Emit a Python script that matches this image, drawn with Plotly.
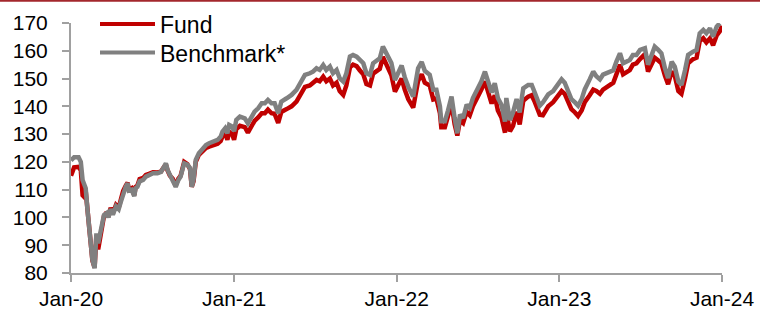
import plotly.graph_objects as go

dates = [
    "2020-01-01", "2020-01-08", "2020-01-18", "2020-01-23", "2020-01-27", "2020-01-30",
    "2020-02-03", "2020-02-07", "2020-02-11", "2020-02-14", "2020-02-18", "2020-02-23",
    "2020-02-27", "2020-03-02", "2020-03-06", "2020-03-10", "2020-03-15", "2020-03-21",
    "2020-03-25", "2020-03-30", "2020-04-04", "2020-04-11", "2020-04-17", "2020-04-22",
    "2020-04-27", "2020-05-03", "2020-05-07", "2020-05-10", "2020-05-16", "2020-05-22",
    "2020-05-25", "2020-05-29", "2020-06-03", "2020-06-11", "2020-06-17", "2020-06-24",
    "2020-07-03", "2020-07-13", "2020-07-21", "2020-07-28", "2020-08-01", "2020-08-05",
    "2020-08-10", "2020-08-16", "2020-08-23", "2020-08-29", "2020-09-03", "2020-09-11",
    "2020-09-18", "2020-09-24", "2020-09-28", "2020-10-02", "2020-10-07", "2020-10-14",
    "2020-10-22", "2020-10-30", "2020-11-06", "2020-11-14", "2020-11-25", "2020-12-02",
    "2020-12-06", "2020-12-12", "2020-12-17", "2020-12-21", "2020-12-28", "2021-01-01",
    "2021-01-06", "2021-01-14", "2021-01-25", "2021-02-01", "2021-02-09", "2021-02-16",
    "2021-02-24", "2021-03-04", "2021-03-11", "2021-03-18", "2021-03-26", "2021-04-02",
    "2021-04-10", "2021-04-17", "2021-04-29", "2021-05-10", "2021-05-21", "2021-06-01",
    "2021-06-09", "2021-06-20", "2021-06-27", "2021-07-05", "2021-07-12", "2021-07-20",
    "2021-07-27", "2021-08-04", "2021-08-11", "2021-08-19", "2021-08-26", "2021-09-03",
    "2021-09-10", "2021-09-18", "2021-09-25", "2021-10-03", "2021-10-10", "2021-10-18",
    "2021-10-25", "2021-11-02", "2021-11-09", "2021-11-17", "2021-11-24", "2021-12-01",
    "2021-12-05", "2021-12-13", "2021-12-20", "2021-12-28",
    "2022-01-04", "2022-01-12", "2022-01-19", "2022-01-27", "2022-02-07", "2022-02-18",
    "2022-02-26", "2022-03-05", "2022-03-16", "2022-03-24", "2022-03-31", "2022-04-08",
    "2022-04-11", "2022-04-19", "2022-04-26", "2022-05-04", "2022-05-11", "2022-05-17",
    "2022-05-23", "2022-05-30", "2022-06-07", "2022-06-14", "2022-06-21", "2022-07-03",
    "2022-07-10", "2022-07-18", "2022-07-25", "2022-08-02", "2022-08-09", "2022-08-16",
    "2022-08-24", "2022-09-01", "2022-09-04", "2022-09-12", "2022-09-19", "2022-09-27",
    "2022-10-04", "2022-10-12", "2022-10-23", "2022-10-31", "2022-11-07", "2022-11-18",
    "2022-11-25", "2022-12-07", "2022-12-18", "2022-12-29",
    "2023-01-06", "2023-01-13", "2023-01-21", "2023-01-28", "2023-02-05", "2023-02-12",
    "2023-02-20", "2023-02-27", "2023-03-10", "2023-03-18", "2023-03-25", "2023-04-02",
    "2023-04-09", "2023-04-17", "2023-04-24", "2023-05-02", "2023-05-09", "2023-05-17",
    "2023-05-24", "2023-06-01", "2023-06-08", "2023-06-15", "2023-06-23", "2023-07-01",
    "2023-07-12", "2023-07-19", "2023-07-27", "2023-08-03", "2023-08-11", "2023-08-18",
    "2023-08-26", "2023-09-02", "2023-09-10", "2023-09-17", "2023-09-25", "2023-10-02",
    "2023-10-10", "2023-10-17", "2023-10-28", "2023-11-05", "2023-11-12", "2023-11-20",
    "2023-11-27", "2023-12-05", "2023-12-12", "2023-12-20", "2023-12-27", "2024-01-01",
]

benchmark = [
    120.5, 121.7, 121.7, 120.0, 113.5, 112.3,
    110.5, 102.7, 94.3, 89.5, 84.7, 81.7,
    94.3, 90.7, 94.3, 97.9, 100.9, 101.6,
    100.0, 103.0, 101.0, 104.0, 103.0, 105.7,
    108.7, 111.1, 112.3, 109.7, 110.0, 107.7,
    110.5, 111.0, 113.0, 113.5, 114.7, 115.2,
    115.9, 115.9, 116.4, 118.3, 119.5, 117.0,
    115.2, 114.0, 111.0, 113.5, 114.7, 119.5,
    119.0, 117.8, 111.0, 113.5, 120.7, 123.1,
    124.9, 126.1, 126.7, 127.3, 127.9, 129.1,
    130.9, 132.1, 130.3, 133.3, 132.7, 131.0,
    135.1, 136.3, 135.7, 133.9, 136.3, 138.1,
    139.3, 141.1, 141.1, 142.3, 141.1, 141.1,
    137.5, 141.7, 142.9, 144.1, 145.9, 149.5,
    151.3, 151.9, 152.5, 153.7, 153.1, 154.9,
    153.1, 154.3, 151.9, 153.1, 150.1, 148.9,
    151.9, 157.9, 158.5, 157.9, 156.7, 155.5,
    151.9, 151.3, 155.5, 156.7, 157.3, 161.5,
    160.3, 157.9, 155.6, 149.5,
    152.0, 154.7, 150.5, 147.0, 143.5, 153.7,
    156.0, 152.8, 151.4, 146.0, 146.0, 140.0,
    134.6, 134.6, 138.5, 143.5, 135.8, 130.3,
    137.0, 135.8, 140.6, 139.4, 143.0, 146.5,
    149.0, 152.5, 148.3, 145.0, 148.3, 143.0,
    140.6, 134.5, 143.0, 135.0, 137.8, 142.6,
    137.8, 146.5, 147.7, 147.7, 144.9, 140.2,
    141.4, 144.3, 145.5, 147.9,
    149.7, 148.5, 144.9, 142.6, 141.4, 140.2,
    142.6, 146.1, 149.7, 152.5, 150.8, 149.7,
    151.4, 151.9, 152.5, 153.0, 156.1, 159.1,
    155.5, 156.1, 156.7, 158.5, 158.5, 160.3,
    160.9, 155.0, 158.5, 161.5, 160.3, 159.1,
    153.7, 150.2, 156.1, 154.3, 148.9, 147.7,
    153.0, 158.5, 159.7, 160.3, 166.3, 167.5,
    166.3, 168.1, 165.1, 168.7, 169.9, None,
]

fund = [
    115.0, 118.0, 118.2, 117.0, 108.0, 107.5,
    109.5, 102.0, 94.0, 89.0, 84.5, 82.0,
    93.5, 88.5, 93.0, 97.0, 100.5, 101.8,
    100.2, 103.5, 101.5, 104.5, 103.5, 106.5,
    109.5, 111.5, 112.5, 110.0, 110.5, 108.0,
    111.0, 111.5, 113.8, 114.2, 115.3, 115.7,
    116.3, 116.2, 116.5, 118.2, 119.0, 116.8,
    115.0, 114.0, 111.5, 114.0, 115.0, 120.0,
    119.2, 117.5, 111.0, 113.0, 120.0, 122.5,
    124.0, 125.0, 125.5, 126.0, 126.5, 127.5,
    129.2, 130.2, 128.0, 131.0, 129.8, 128.0,
    131.8, 133.0, 132.5, 130.5, 133.0, 134.8,
    136.0, 137.5, 137.5, 138.8, 137.5, 137.3,
    134.0, 138.0, 139.0, 140.0, 141.7, 145.3,
    147.0, 147.5, 148.3, 149.5, 149.0, 150.7,
    149.0, 150.0, 147.5, 148.5, 145.5, 144.1,
    147.5, 154.0, 155.0, 154.5, 153.0, 151.5,
    148.0, 147.5, 151.8, 153.0, 153.5, 157.8,
    156.5, 154.0, 151.2, 145.3,
    147.5, 150.0, 146.0, 142.5, 139.5, 149.2,
    151.5, 148.5, 147.5, 142.5, 142.8, 137.5,
    132.5, 132.5, 136.5, 141.0, 133.5, 129.5,
    135.0, 134.0, 138.0, 136.8, 140.0, 143.5,
    146.0, 149.0, 145.0, 141.0, 144.0, 138.5,
    136.0, 130.5, 138.0, 131.0, 133.0, 138.0,
    133.5, 142.0, 143.5, 144.0, 141.5, 137.0,
    136.8, 140.0, 141.5, 143.8,
    145.5, 144.5, 141.0, 139.0, 137.8, 136.5,
    138.5, 141.5, 144.0, 146.0, 145.5, 144.5,
    146.0, 146.8, 147.5, 148.5, 151.5, 155.0,
    151.5, 152.5, 153.0, 155.0, 155.5, 157.0,
    158.8, 152.5, 155.0, 157.5, 156.5, 155.5,
    151.0, 148.0, 152.5, 151.0, 145.5, 144.5,
    150.0, 155.5, 157.0, 157.5, 163.5, 164.5,
    163.0, 164.5, 162.0, 165.5, 167.0, 169.0,
]

series_names = ["Fund", "Benchmark*"]
series_colors = ["#C00000", "#808080"]
y_ticks = [80, 90, 100, 110, 120, 130, 140, 150, 160, 170]
x_ticks = ["2020-01-01", "2021-01-01", "2022-01-01", "2023-01-01", "2024-01-01"]

W, H = 760, 311
L, R, T, B = 71, 38, 23, 38
PW, PH = W - L - R, H - T - B

def px_x(p):
    return (p - L) / PW

def px_y(p):
    return (H - B - p) / PH

fig = go.Figure()
fig.add_trace(go.Scatter(x=dates, y=fund, name=series_names[0], mode="lines",
                         line=dict(color=series_colors[0], width=4.5), showlegend=False))
fig.add_trace(go.Scatter(x=dates, y=benchmark, name=series_names[1], mode="lines",
                         line=dict(color=series_colors[1], width=4.5), showlegend=False))

axis_col = "#A0A0A0"
fig.update_layout(
    width=W, height=H,
    autosize=False,
    margin=dict(l=L, r=R, t=T, b=B, pad=0, autoexpand=False),
    paper_bgcolor="white", plot_bgcolor="white",
    font=dict(family="Liberation Sans, Arial, sans-serif", color="black"),
    xaxis=dict(
        type="date", range=["2020-01-01", "2024-01-01"],
        tickvals=x_ticks, tickformat="%b-%y",
        showgrid=False, zeroline=False, automargin=False,
        showline=True, linecolor=axis_col, linewidth=2,
        ticks="outside", ticklen=7, tickwidth=2, tickcolor=axis_col,
        tickfont=dict(size=21, color="black"),
        ticklabelstandoff=-1,
    ),
    yaxis=dict(
        range=[80, 170], tickvals=y_ticks,
        showgrid=False, zeroline=False, automargin=False,
        showline=True, linecolor=axis_col, linewidth=2,
        ticks="outside", ticklen=7, tickwidth=2, tickcolor=axis_col,
        tickfont=dict(size=21, color="black"),
        ticklabelstandoff=10,
    ),
)

# top border line
fig.add_shape(type="line", xref="paper", yref="paper",
              x0=px_x(0), x1=px_x(W), y0=px_y(0.8), y1=px_y(0.8),
              line=dict(color="#A3272C", width=2))

# legend (drawn manually to match the long line samples)
leg_y = [24, 52.5]
for name, col, yy in zip(series_names, series_colors, leg_y):
    fig.add_shape(type="line", xref="paper", yref="paper",
                  x0=px_x(100), x1=px_x(155), y0=px_y(yy), y1=px_y(yy),
                  line=dict(color=col, width=4))
    fig.add_annotation(xref="paper", yref="paper", x=px_x(158), y=px_y(yy + 1),
                       xanchor="left", yanchor="middle", showarrow=False,
                       text=name, font=dict(size=23, color="black"))

fig.write_html(
    "out.html",
    config={"responsive": False, "displayModeBar": False},
    post_script="document.body.style.margin='0px';document.body.style.padding='0px';"
                "document.documentElement.style.overflow='hidden';",
)
